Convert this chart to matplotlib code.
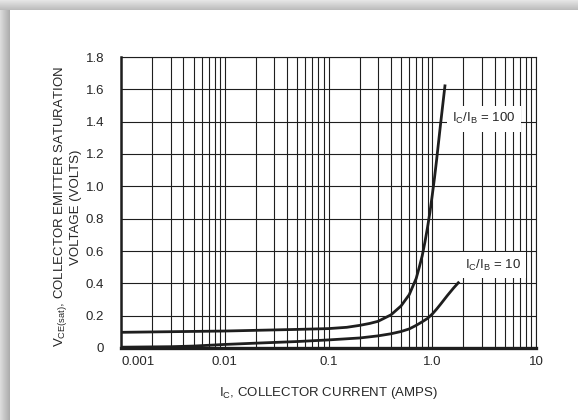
import numpy as np
import matplotlib
matplotlib.use("Agg")
import matplotlib.pyplot as plt
from matplotlib.ticker import FixedLocator, NullFormatter

plt.rcParams['font.family'] = ['Liberation Sans Narrow', 'Liberation Sans', 'DejaVu Sans']

# ---- data ----
ic_100 = [0.001, 0.01, 0.05, 0.1, 0.15, 0.2, 0.25, 0.3, 0.4, 0.5, 0.6, 0.7, 0.75, 0.8,
          0.85, 0.9, 0.95, 1.0, 1.05, 1.1, 1.2, 1.33]
vce_100 = [0.097, 0.105, 0.115, 0.12, 0.128, 0.14, 0.152, 0.165, 0.205, 0.26, 0.33, 0.43,
           0.50, 0.57, 0.655, 0.745, 0.84, 0.945, 1.05, 1.16, 1.38, 1.63]

ic_10 = [0.001, 0.003, 0.005, 0.01, 0.02, 0.05, 0.1, 0.2, 0.3, 0.4, 0.5, 0.6, 0.7, 0.8,
         0.9, 1.0, 1.1, 1.2, 1.4, 1.6, 1.82]
vce_10 = [0.005, 0.008, 0.012, 0.022, 0.03, 0.04, 0.05, 0.062, 0.075, 0.088, 0.102, 0.118,
          0.14, 0.162, 0.183, 0.21, 0.24, 0.27, 0.325, 0.37, 0.41]

x_ticks = [0.001, 0.01, 0.1, 1.0, 10]
x_tick_labels = ["0.001", "0.01", "0.1", "1.0", "10"]
y_ticks = [0, 0.2, 0.4, 0.6, 0.8, 1.0, 1.2, 1.4, 1.6, 1.8]
y_tick_labels = ["0", "0.2", "0.4", "0.6", "0.8", "1.0", "1.2", "1.4", "1.6", "1.8"]

label_100 = r"$\mathregular{I_C/I_B}$ = 100"
label_10 = r"$\mathregular{I_C/I_B}$ = 10"

TXT = "#262626"
LINE = "#1e1e1e"
FS = 9.5

W, H = 578, 420
fig = plt.figure(figsize=(W / 100, H / 100), dpi=100)

# background frame (card with shadow)
bg = fig.add_axes([0, 0, 1, 1], zorder=-10)
img = np.ones((H, W, 3))
for i in range(10):
    v = 0.82 + 0.08 * (1 - i / 9)
    img[i, :, :] = v - 0.08 * (i / 9)
for j in range(10):
    v = 0.86 - 0.18 * (j / 9)
    img[10:, j, :] = v
bg.imshow(img, aspect='auto', interpolation='bilinear')
bg.set_axis_off()

ax = fig.add_axes([121 / W, 1 - 348 / H, (536 - 121) / W, (348 - 57) / H])
ax.set_xscale('log')
ax.set_xlim(0.001, 10)
ax.set_ylim(0, 1.8)

minor = [m * 10.0 ** e for e in range(-3, 1) for m in range(2, 10)]
ax.xaxis.set_major_locator(FixedLocator(x_ticks))
ax.xaxis.set_minor_locator(FixedLocator(minor))
ax.xaxis.set_minor_formatter(NullFormatter())
ax.set_xticks(x_ticks)
ax.set_xticklabels(x_tick_labels)
ax.set_yticks(y_ticks)
ax.set_yticklabels(y_tick_labels)

ax.grid(True, which='major', axis='both', color=LINE, lw=0.8, zorder=1)
ax.grid(True, which='minor', axis='x', color=LINE, lw=0.8, zorder=1)
ax.set_axisbelow(True)

ax.tick_params(axis='both', which='both', length=0, labelsize=FS, colors=TXT)
ax.tick_params(axis='x', pad=6)
ax.tick_params(axis='y', pad=12)
xl = ax.get_xticklabels()
xl[0].set_horizontalalignment('left')

for s in ['top', 'right']:
    ax.spines[s].set_linewidth(0.8)
    ax.spines[s].set_color(LINE)
ax.spines['left'].set_linewidth(1.8)
ax.spines['bottom'].set_linewidth(2.4)
ax.spines['left'].set_color(LINE)
ax.spines['bottom'].set_color(LINE)

ax.plot(ic_100, vce_100, color=LINE, lw=2.0, solid_joinstyle='round', solid_capstyle='butt', zorder=3)
ax.plot(ic_10, vce_10, color=LINE, lw=2.0, solid_joinstyle='round', solid_capstyle='butt', zorder=3)

ax.text(1.55, 1.418, label_100, fontsize=FS, color=TXT, ha='left', va='center', zorder=4,
        bbox=dict(boxstyle='square,pad=0.4', fc='white', ec='none'))
ax.text(2.07, 0.512, label_10, fontsize=FS, color=TXT, ha='left', va='center', zorder=4,
        bbox=dict(boxstyle='square,pad=0.4', fc='white', ec='none'))

fig.text(328 / W, 1 - 393 / H, r"$\mathregular{I_C}$, COLLECTOR CURRENT (AMPS)",
         fontsize=FS, color=TXT, ha='center', va='center')
fig.text(67 / W, 1 - 207 / H,
         "$\\mathregular{V_{CE(sat)}}$, COLLECTOR EMITTER SATURATION\nVOLTAGE (VOLTS)",
         fontsize=FS, color=TXT, ha='center', va='center', rotation=90,
         multialignment='center', linespacing=1.0)

fig.savefig("out.png", dpi=100)
